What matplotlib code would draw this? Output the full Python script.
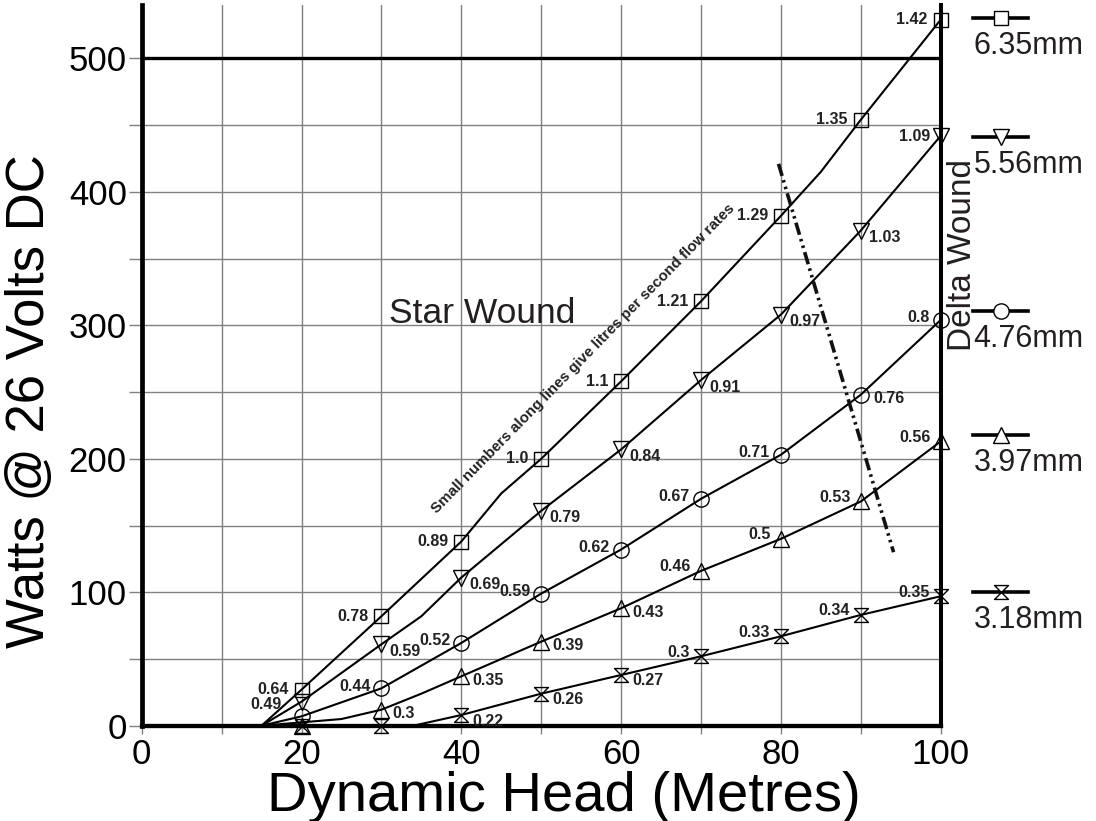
import matplotlib
matplotlib.use("Agg")
import matplotlib.pyplot as plt
import matplotlib.transforms as mtransforms
from matplotlib.path import Path
from matplotlib.ticker import MultipleLocator

plt.rcParams['font.family'] = ['Liberation Sans', 'DejaVu Sans']

# ---------------- data ----------------
head = [20, 30, 40, 50, 60, 70, 80, 90, 100]

# marker values, watts
w_635 = [27, 82, 138, 200, 258, 318, 382, 454, 529]
w_556 = [18, 61, 111, 161, 207, 259, 308, 371, 442]
w_476 = [7, 28, 62, 99, 132, 170, 203, 248, 304]
w_397 = [0, 12, 37, 63, 88, 116, 140, 168, 213]
w_318 = [0, 0, 8, 24, 38, 52, 67, 83, 97]

# flow rates (litres / second) written next to the markers
q_635 = ['0.64', '0.78', '0.89', '1.0', '1.1', '1.21', '1.29', '1.35', '1.42']
q_556 = ['0.49', '0.59', '0.69', '0.79', '0.84', '0.91', '0.97', '1.03', '1.09']
q_476 = ['', '0.44', '0.52', '0.59', '0.62', '0.67', '0.71', '0.76', '0.8']
q_397 = ['', '0.3', '0.35', '0.39', '0.43', '0.46', '0.5', '0.53', '0.56']
q_318 = ['', '', '0.22', '0.26', '0.27', '0.3', '0.33', '0.34', '0.35']

# the drawn curves (start point and bends included)
cx_635 = [15, 20, 30, 40, 45, 50, 60, 70, 80, 85, 90, 100]
cy_635 = [0, 27, 82, 138, 174, 200, 258, 318, 382, 415, 454, 529]
cx_556 = [15, 20, 30, 35, 40, 50, 60, 70, 80, 90, 100]
cy_556 = [0, 18, 61, 82, 111, 161, 207, 259, 308, 371, 442]
cx_476 = [15, 20, 30, 40, 50, 60, 70, 80, 90, 100]
cy_476 = [0, 7, 28, 62, 99, 132, 170, 203, 248, 304]
cx_397 = [15, 25, 30, 35, 40, 50, 60, 70, 80, 90, 100]
cy_397 = [0, 5, 12, 24, 37, 63, 88, 116, 140, 168, 213]
cx_318 = [34, 40, 50, 60, 70, 80, 90, 100]
cy_318 = [0, 8, 24, 38, 52, 67, 83, 97]

pipe_sizes = ['6.35mm', '5.56mm', '4.76mm', '3.97mm', '3.18mm']

# star / delta boundary
bound_x = [79.7, 94.1]
bound_y = [421, 130]

# ---------------- styling ----------------
hourglass = Path([(-1, 1), (1, 1), (-1, -1), (1, -1), (-1, 1)],
                 [Path.MOVETO, Path.LINETO, Path.LINETO, Path.LINETO, Path.CLOSEPOLY])

# label side per point: l = left of marker, r = right, L = further left
side_635 = ['l'] * 9
side_556 = ['L', 'r', 'r', 'r', 'r', 'r', 'r', 'r', 'l']
side_476 = ['l'] * 7 + ['r', 'l']
side_397 = ['r'] * 5 + ['l'] * 4
side_318 = ['r'] * 5 + ['l'] * 4

series = [
    (cx_635, cy_635, w_635, q_635, side_635, 's', 10.5, {'l': (-13, 0)}),
    (cx_556, cy_556, w_556, q_556, side_556, 'v', 11, {'l': (-10, -1), 'L': (-20, -3), 'r': (8, -7)}),
    (cx_476, cy_476, w_476, q_476, side_476, 'o', 11, {'l': (-11, 2), 'r': (13, -4)}),
    (cx_397, cy_397, w_397, q_397, side_397, '^', 11, {'l': (-10, 4), 'r': (11, -4)}),
    (cx_318, cy_318, w_318, q_318, side_318, hourglass, 10, {'l': (-11, 4), 'r': (11, -6)}),
]

legend_y = [530, 441, 311, 218, 100]

fig = plt.figure(figsize=(10.96, 8.21), dpi=100)
ax = fig.add_axes([141.7 / 1096, 1 - 725.7 / 821, 799 / 1096, 720.7 / 821])

ax.set_xlim(0, 100)
ax.set_ylim(0, 540)

grey = '#808080'
ax.xaxis.set_major_locator(MultipleLocator(20))
ax.xaxis.set_minor_locator(MultipleLocator(10))
ax.yaxis.set_major_locator(MultipleLocator(100))
ax.yaxis.set_minor_locator(MultipleLocator(50))
ax.grid(True, which='both', color=grey, lw=1.0, zorder=0)
ax.set_axisbelow(True)

ax.tick_params(axis='x', which='both', direction='out', length=6, width=1, color=grey,
               labelsize=25, pad=3.0)
ax.tick_params(axis='y', which='both', direction='out', length=9.5, width=1, color=grey,
               labelsize=25, pad=1.2)

ax.spines['top'].set_visible(False)
ax.spines['left'].set_linewidth(3.4)
ax.spines['bottom'].set_linewidth(3.1)
ax.spines['right'].set_linewidth(2.9)
for s in ['left', 'bottom', 'right']:
    ax.spines[s].set_zorder(5)

ax.axhline(500, color='black', lw=2.4, zorder=2)

for cx, cy, w, q, sides, mk, ms, offs in series:
    ax.plot(cx, cy, color='black', lw=1.5, zorder=3, clip_on=False)
    ax.plot(head, w, ls='none', marker=mk, ms=ms, mfc='none', mec='black', mew=1.0,
            zorder=6, clip_on=False)
    for x, y, t, sd in zip(head, w, q, sides):
        if not t:
            continue
        dx, dy = offs[sd]
        ax.annotate(t, (x, y), xytext=(dx, dy), textcoords='offset pixels',
                    ha='right' if dx < 0 else 'left', va='center',
                    fontsize=11.5, fontweight='bold', color='#222222', zorder=7)

# boundary between star and delta wound
ax.plot(bound_x, bound_y, color='#111111', lw=2.6, dash_capstyle='butt',
        ls=(0, (3.5, 1.2, 0.7, 1.2, 0.7, 1.2)), zorder=4)

ax.text(31, 302, 'Star Wound', fontsize=25.5, color='#231f20', ha='left', va='baseline')
ax.text(100.8, 281, 'Delta Wound', fontsize=24, color='#231f20', rotation=90,
        ha='left', va='bottom')
ax.text(55.3, 275, 'Small numbers along lines give litres per second flow rates',
        fontsize=10.9, fontweight='bold', color='#222222', rotation=45.6,
        ha='center', va='center', rotation_mode='anchor')

# key on the right: one glyph per pipe size, level with the end of its curve
trans = mtransforms.blended_transform_factory(ax.transAxes, ax.transData)
for (cx, cy, w, q, sides, mk, ms, offs), name, ly in zip(series, pipe_sizes, legend_y):
    ax.plot([1.041, 1.109], [ly, ly], transform=trans, color='black', lw=2.6,
            clip_on=False, zorder=6)
    ax.plot([1.075], [ly], transform=trans, ls='none', marker=mk, ms=ms, mfc='white',
            mec='black', mew=1.0, clip_on=False, zorder=7)
    ax.annotate(name, (1.041, ly), xycoords=trans, xytext=(0, -13), textcoords='offset pixels',
                ha='left', va='top', fontsize=22, color='#231f20')

fig.text(30 / 1096, 1 - 401 / 821, 'Watts @ 26 Volts DC', rotation=90, fontsize=38,
         ha='center', va='center')
fig.text(564 / 1096, 1 - 811 / 821, 'Dynamic Head (Metres)', fontsize=40.5,
         ha='center', va='baseline')

fig.savefig('out.png', dpi=100)
